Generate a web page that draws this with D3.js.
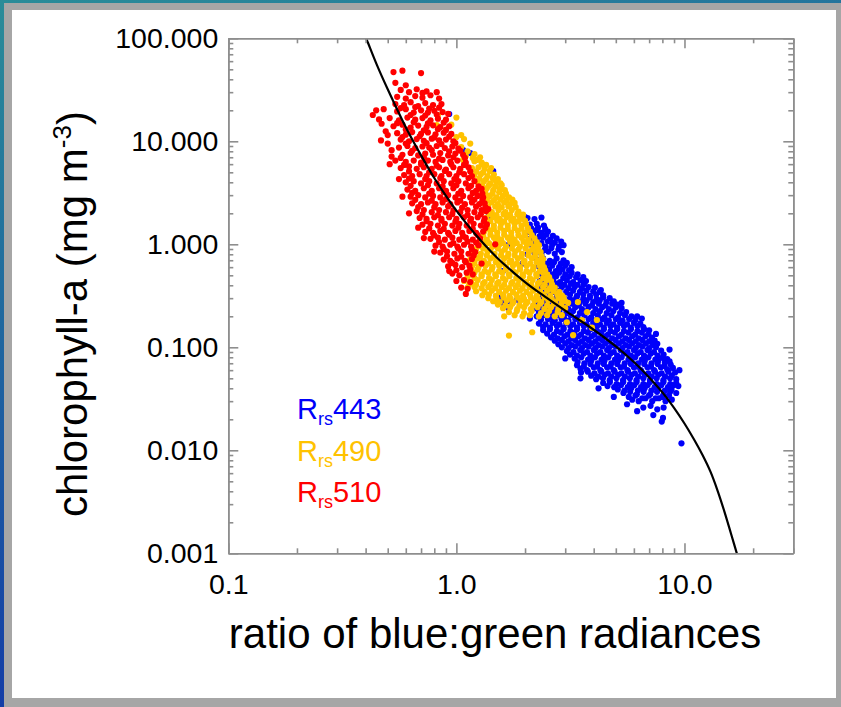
<!DOCTYPE html>
<html>
<head>
<meta charset="utf-8">
<script src="https://cdn.jsdelivr.net/npm/d3@7"></script>
<style>
  html, body { margin: 0; padding: 0; background: #fff; }
  svg { display: block; }
</style>
</head>
<body>
<script>
(function() {
	"use strict";

	// axis ticks
	const X_TICKS = [0.1, 1, 10],
	   Y_TICKS = [0.001, 0.01, 0.1, 1, 10, 100];

	// legend labels (band names)
	const BANDS = ["443", "490", "510"];

	// fitted curve: [ratio, chl]
	const CURVE = [[0.40,103],[0.41,90],[0.45,54],[0.5,32],[0.6,13.7],[0.7,7.3],[0.8,4.4],
	   [0.9,2.95],[1.0,2.12],[1.2,1.28],[1.5,0.75],[2,0.43],[2.5,0.30],[3,0.227],[4,0.148],
	   [5,0.102],[6,0.072],[7,0.051],[8,0.0365],[9,0.0258],[10,0.0182],[11,0.0128],[12,0.009],
	   [13,0.0062],[14,0.004],[15,0.0025],[16,0.00155],[17.2,0.0009]];

	// Rrs443 points: [ratio, chl]
	const RRS443 = [
	  [0.93,18.4],[1.07,8.2],[1.15,7.7],[1.45,5.15],[2.0,1.84],[2.26,1.38],
	  [1.55,0.3],[1.7,0.28],[1.85,0.29],[1.69,0.24],[2.1,0.19],[1.6,0.27],[1.38,1.85],[1.7,1.0],[1.95,0.65],[2.05,0.8],[1.6,0.55],
	  [2.05,1.8],[2.2,1.76],[2.36,1.82],
	  [2.1,1.55],[2.25,1.58],[2.42,1.52],
	  [2.13,1.43],[2.28,1.45],[2.45,1.41],
	  [2.06,1.32],[2.2,1.35],[2.36,1.29],[2.52,1.33],
	  [2.17,1.22],[2.32,1.2],[2.48,1.24],[2.65,1.21],
	  [2.1,1.13],[2.25,1.1],[2.4,1.16],[2.58,1.11],[2.75,1.14],
	  [2.2,1.05],[2.36,1.03],[2.52,1.07],[2.7,1.04],[2.88,1.06],
	  [2.15,0.97],[2.3,0.99],[2.46,0.95],[2.63,0.99],[2.82,0.95],[2.95,0.98],
	  [2.28,0.9],[2.44,0.88],[2.61,0.92],[2.8,0.89],
	  [2.2,0.83],[2.36,0.81],[2.53,0.85],[2.7,0.81],[2.9,0.84],
	  [2.25,0.71],[2.4,0.73],[2.57,0.69],[2.75,0.73],[2.95,0.7],
	  [2.34,0.66],[2.5,0.65],[2.68,0.67],[2.87,0.65],[3.05,0.66],
	  [2.3,0.61],[2.46,0.6],[2.63,0.62],[2.82,0.6],[3.0,0.62],[3.2,0.6],
	  [2.38,0.56],[2.55,0.57],[2.73,0.55],[2.92,0.57],[3.12,0.56],
	  [2.3,0.52],[2.46,0.53],[2.63,0.51],[2.82,0.53],[3.0,0.51],[3.2,0.53],[3.4,0.51],
	  [2.4,0.48],[2.56,0.47],[2.74,0.49],[2.94,0.47],[3.14,0.49],[3.35,0.48],[3.6,0.48],
	  [2.32,0.44],[2.48,0.43],[2.66,0.45],[2.85,0.43],[3.05,0.45],[3.25,0.43],[3.5,0.45],[3.7,0.44],
	  [2.42,0.41],[2.6,0.405],[2.78,0.415],[2.98,0.405],[3.18,0.415],[3.4,0.405],[3.62,0.41],
	  [2.35,0.38],[2.52,0.385],[2.7,0.375],[2.9,0.385],[3.1,0.375],[3.3,0.385],[3.55,0.375],[3.8,0.385],[4.05,0.38],
	  [2.45,0.35],[2.63,0.345],[2.83,0.355],[3.03,0.345],[3.25,0.355],[3.48,0.345],[3.72,0.355],[3.98,0.35],[4.25,0.345],[4.3,0.36],
	  [2.4,0.32],[2.57,0.315],[2.76,0.325],[2.95,0.315],[3.15,0.325],[3.38,0.315],[3.6,0.325],[3.85,0.315],[4.1,0.325],[4.4,0.32],
	  [2.38,0.3],[2.55,0.305],[2.74,0.295],[2.94,0.305],[3.14,0.295],[3.36,0.305],[3.6,0.295],[3.85,0.305],[4.12,0.295],[4.4,0.305],[4.7,0.3],
	  [2.3,0.28],[2.46,0.285],[2.64,0.275],[2.83,0.285],[3.03,0.275],[3.25,0.285],[3.48,0.275],[3.72,0.285],[3.98,0.275],[4.25,0.285],[4.55,0.275],[4.9,0.28],
	  [2.28,0.26],[2.44,0.265],[2.6,0.255],[2.8,0.265],[3.0,0.255],[3.21,0.265],[3.44,0.255],[3.68,0.265],[3.93,0.255],[4.21,0.265],[4.5,0.255],[4.82,0.265],[5.1,0.26],[5.3,0.27],
	  [2.2,0.24],[2.35,0.235],[2.52,0.245],[2.7,0.235],[2.9,0.245],[3.1,0.235],[3.32,0.245],[3.55,0.235],[3.8,0.245],[4.07,0.235],[4.36,0.245],[4.66,0.235],[5.0,0.245],[5.3,0.24],
	  [2.3,0.22],[2.46,0.225],[2.64,0.215],[2.83,0.225],[3.03,0.215],[3.25,0.225],[3.48,0.215],[3.72,0.225],[3.98,0.215],[4.26,0.225],[4.56,0.215],[4.88,0.225],[5.22,0.215],[5.55,0.22],
	  [2.25,0.2],[2.4,0.205],[2.58,0.195],[2.76,0.205],[2.96,0.195],[3.17,0.205],[3.4,0.195],[3.64,0.205],[3.9,0.195],[4.17,0.205],[4.46,0.195],[4.78,0.205],[5.12,0.195],[5.48,0.205],[5.85,0.2],[6.2,0.2],
	  [2.35,0.185],[2.52,0.188],[2.7,0.182],[2.89,0.188],[3.1,0.182],[3.32,0.188],[3.55,0.182],[3.8,0.188],[4.07,0.182],[4.36,0.188],[4.66,0.182],[5.0,0.188],[5.35,0.182],[5.72,0.188],[6.1,0.185],[6.5,0.19],
	  [2.3,0.17],[2.46,0.167],[2.64,0.173],[2.83,0.167],[3.03,0.173],[3.25,0.167],[3.48,0.173],[3.72,0.167],[3.98,0.173],[4.26,0.167],[4.56,0.173],[4.88,0.167],[5.22,0.173],[5.6,0.167],[6.0,0.173],[6.4,0.17],
	  [2.4,0.158],[2.57,0.155],[2.76,0.161],[2.95,0.155],[3.16,0.161],[3.38,0.155],[3.62,0.161],[3.87,0.155],[4.14,0.161],[4.43,0.155],[4.74,0.161],[5.07,0.155],[5.43,0.161],[5.82,0.155],[6.22,0.161],[6.6,0.157],
	  [2.4,0.147],[2.57,0.15],[2.76,0.144],[2.95,0.15],[3.16,0.144],[3.38,0.15],[3.62,0.144],[3.87,0.15],[4.14,0.144],[4.43,0.15],[4.74,0.144],[5.07,0.15],[5.43,0.144],[5.82,0.15],[6.22,0.144],[6.65,0.15],[7.0,0.146],
	  [2.5,0.136],[2.68,0.133],[2.87,0.139],[3.07,0.133],[3.29,0.139],[3.52,0.133],[3.77,0.139],[4.03,0.133],[4.32,0.139],[4.62,0.133],[4.95,0.139],[5.3,0.133],[5.68,0.139],[6.08,0.133],[6.5,0.139],[6.95,0.135],[7.5,0.135],
	  [2.6,0.125],[2.78,0.122],[2.98,0.128],[3.19,0.122],[3.42,0.128],[3.66,0.122],[3.92,0.128],[4.2,0.122],[4.5,0.128],[4.82,0.122],[5.16,0.128],[5.52,0.122],[5.9,0.128],[6.3,0.122],[6.75,0.128],[7.2,0.124],
	  [2.7,0.116],[2.9,0.118],[3.1,0.114],[3.32,0.118],[3.55,0.114],[3.8,0.118],[4.07,0.114],[4.36,0.118],[4.66,0.114],[4.99,0.118],[5.34,0.114],[5.71,0.118],[6.11,0.114],[6.54,0.118],[7.0,0.114],[7.4,0.116],
	  [2.8,0.107],[3.0,0.109],[3.2,0.105],[3.43,0.109],[3.67,0.105],[3.93,0.109],[4.2,0.105],[4.5,0.109],[4.82,0.105],[5.16,0.109],[5.52,0.105],[5.9,0.109],[6.32,0.105],[6.77,0.109],[7.25,0.105],[7.6,0.108],
	  [2.9,0.1],[3.1,0.098],[3.32,0.102],[3.55,0.098],[3.8,0.102],[4.07,0.098],[4.36,0.102],[4.66,0.098],[4.99,0.102],[5.34,0.098],[5.71,0.102],[6.11,0.098],[6.54,0.102],[7.0,0.098],[7.5,0.1],[8.6,0.095],
	  [3.05,0.092],[3.26,0.09],[3.49,0.094],[3.74,0.09],[4.0,0.094],[4.28,0.09],[4.58,0.094],[4.9,0.09],[5.25,0.094],[5.62,0.09],[6.0,0.094],[6.43,0.09],[6.88,0.094],[7.35,0.09],[7.9,0.093],
	  [3.15,0.085],[3.38,0.083],[3.62,0.087],[3.87,0.083],[4.14,0.087],[4.43,0.083],[4.74,0.087],[5.07,0.083],[5.43,0.087],[5.82,0.083],[6.22,0.087],[6.65,0.083],[7.12,0.087],[7.62,0.083],[8.1,0.085],
	  [3.3,0.078],[3.53,0.08],[3.78,0.076],[4.05,0.08],[4.33,0.076],[4.64,0.08],[4.96,0.076],[5.3,0.08],[5.68,0.076],[6.08,0.08],[6.5,0.076],[6.95,0.08],[7.45,0.076],[8.0,0.079],[8.4,0.077],[3.0,0.078],
	  [3.4,0.072],[3.64,0.07],[3.9,0.074],[4.17,0.07],[4.46,0.074],[4.78,0.07],[5.11,0.074],[5.47,0.07],[5.85,0.074],[6.26,0.07],[6.7,0.074],[7.17,0.07],[7.67,0.074],[8.2,0.071],[8.6,0.073],
	  [3.38,0.067],[3.62,0.065],[3.87,0.069],[4.14,0.065],[4.43,0.069],[4.74,0.065],[5.07,0.069],[5.43,0.065],[5.82,0.069],[6.23,0.065],[6.66,0.069],[7.13,0.065],[7.63,0.069],[8.17,0.066],[8.7,0.068],
	  [3.5,0.062],[3.74,0.06],[4.0,0.064],[4.28,0.06],[4.58,0.064],[4.9,0.06],[5.25,0.064],[5.62,0.06],[6.0,0.064],[6.43,0.06],[6.88,0.064],[7.36,0.06],[7.88,0.064],[8.4,0.061],[8.9,0.063],[9.5,0.06],
	  [3.52,0.057],[3.77,0.058],[4.03,0.056],[4.32,0.058],[4.62,0.056],[4.94,0.058],[5.29,0.056],[5.66,0.058],[6.06,0.056],[6.48,0.058],[6.94,0.056],[7.42,0.058],[7.94,0.056],[8.5,0.058],[9.1,0.057],
	  [3.9,0.053],[4.18,0.052],[4.47,0.054],[4.78,0.052],[5.12,0.054],[5.48,0.052],[5.86,0.054],[6.27,0.052],[6.71,0.054],[7.18,0.052],[7.68,0.054],[8.22,0.052],[8.8,0.053],[3.5,0.05],
	  [4.1,0.049],[4.39,0.05],[4.7,0.048],[5.03,0.05],[5.38,0.048],[5.76,0.05],[6.16,0.048],[6.6,0.05],[7.06,0.048],[7.55,0.05],[8.08,0.048],[8.65,0.05],[9.2,0.049],
	  [4.4,0.045],[4.71,0.046],[5.04,0.044],[5.39,0.046],[5.77,0.044],[6.17,0.046],[6.6,0.044],[7.06,0.046],[7.56,0.044],[8.09,0.046],[8.66,0.044],[9.2,0.045],
	  [4.6,0.042],[4.92,0.041],[5.27,0.043],[5.64,0.041],[6.03,0.043],[6.45,0.041],[6.9,0.043],[7.4,0.041],[7.92,0.043],[8.47,0.041],[9.0,0.043],[9.4,0.042],[4.2,0.04],
	  [5.1,0.039],[5.46,0.038],[5.84,0.04],[6.25,0.038],[6.69,0.04],[7.16,0.038],[7.66,0.04],[8.2,0.038],[8.77,0.039],
	  [5.4,0.036],[5.78,0.037],[6.18,0.035],[6.62,0.037],[7.08,0.035],[7.58,0.037],[8.1,0.035],[8.65,0.037],[9.2,0.036],
	  [5.7,0.033],[6.1,0.034],[6.53,0.032],[6.99,0.034],[7.48,0.032],[8.0,0.033],[8.55,0.034],[4.9,0.033],
	  [5.9,0.031],[6.3,0.03],[6.75,0.032],[7.22,0.03],[7.72,0.032],[8.26,0.03],[8.8,0.031],
	  [6.6,0.026],[7.1,0.027],[7.6,0.025],[8.1,0.026],[5.6,0.028],[6.2,0.024],[7.3,0.022],
	  [8.05,0.0206],[7.95,0.019],[9.7,0.0117]
	];

	// Rrs490 points
	const RRS490 = [
	  [0.83,18],[1.0,17],[0.82,14.4],[1.05,11.5],[1.07,6.6],[1.23,6.6],[1.04,5.3],[1.48,4.2],[0.9,13],[0.95,14.5],
	  [1.0,11],[1.08,10.5],[1.15,9.5],[1.05,8.8],[1.12,8],[1.2,7.5],[1.27,7.0],[1.1,7.2],[1.18,6.9],[1.3,6.0],[1.35,5.9],
	  [1.2,6.4],[1.29,6.2],
	  [1.17,5.5],[1.25,5.6],[1.33,5.4],[1.42,5.5],
	  [1.22,5.1],[1.31,5.0],[1.4,5.15],
	  [1.2,4.7],[1.28,4.8],[1.37,4.6],[1.46,4.75],
	  [1.26,4.35],[1.35,4.3],[1.44,4.4],[1.52,4.3],
	  [1.24,4.0],[1.32,4.1],[1.41,3.9],[1.5,4.05],[1.56,3.9],
	  [1.3,3.7],[1.39,3.75],[1.48,3.65],[1.58,3.75],
	  [1.28,3.4],[1.36,3.5],[1.45,3.35],[1.55,3.45],[1.63,3.35],
	  [1.34,3.15],[1.44,3.1],[1.54,3.2],[1.65,3.1],
	  [1.32,2.9],[1.4,2.95],[1.5,2.85],[1.6,2.95],[1.7,2.85],
	  [1.36,2.7],[1.46,2.68],[1.56,2.73],[1.66,2.67],[1.76,2.72],
	  [1.33,2.5],[1.42,2.55],[1.52,2.45],[1.62,2.55],[1.72,2.45],[1.8,2.52],
	  [1.38,2.3],[1.48,2.33],[1.58,2.28],[1.69,2.33],[1.82,2.3],
	  [1.34,2.1],[1.43,2.05],[1.53,2.15],[1.64,2.05],[1.75,2.15],[1.87,2.08],
	  [1.4,1.95],[1.5,1.92],[1.61,1.97],[1.72,1.93],[1.85,1.96],[1.96,1.94],
	  [1.35,1.8],[1.45,1.84],[1.55,1.77],[1.66,1.83],[1.78,1.77],[1.9,1.83],[1.96,1.76],
	  [1.41,1.68],[1.51,1.7],[1.62,1.66],[1.74,1.7],[1.87,1.67],[2.0,1.69],
	  [1.36,1.55],[1.46,1.52],[1.57,1.58],[1.68,1.52],[1.8,1.58],[1.93,1.52],[2.02,1.57],
	  [1.37,1.43],[1.46,1.41],[1.56,1.45],[1.68,1.41],[1.8,1.44],[1.93,1.42],[2.06,1.44],
	  [1.32,1.32],[1.41,1.35],[1.51,1.3],[1.62,1.35],[1.74,1.3],[1.86,1.35],[1.99,1.3],[2.1,1.33],
	  [1.31,1.22],[1.41,1.24],[1.51,1.2],[1.62,1.24],[1.74,1.2],[1.87,1.23],[2.0,1.21],[2.14,1.23],
	  [1.27,1.13],[1.36,1.11],[1.46,1.16],[1.57,1.11],[1.68,1.16],[1.8,1.11],[1.93,1.16],[2.07,1.11],[2.2,1.14],
	  [1.3,1.05],[1.39,1.03],[1.49,1.06],[1.6,1.03],[1.72,1.06],[1.84,1.03],[1.97,1.06],[2.11,1.03],[2.25,1.05],
	  [1.25,0.97],[1.34,0.99],[1.44,0.95],[1.54,0.99],[1.65,0.95],[1.77,0.99],[1.9,0.95],[2.04,0.99],[2.18,0.95],[2.3,0.98],
	  [1.22,0.9],[1.31,0.91],[1.41,0.89],[1.52,0.91],[1.63,0.89],[1.75,0.91],[1.87,0.89],[2.01,0.91],[2.15,0.89],[2.28,0.9],
	  [1.2,0.83],[1.28,0.81],[1.37,0.85],[1.47,0.81],[1.58,0.85],[1.69,0.81],[1.81,0.85],[1.94,0.81],[2.08,0.85],[2.22,0.82],[2.34,0.84],
	  [1.18,0.77],[1.27,0.76],[1.36,0.78],[1.46,0.76],[1.57,0.78],[1.68,0.76],[1.8,0.78],[1.93,0.76],[2.07,0.78],[2.21,0.76],[2.36,0.77],
	  [1.15,0.71],[1.23,0.73],[1.32,0.69],[1.41,0.73],[1.51,0.69],[1.62,0.73],[1.74,0.69],[1.86,0.73],[1.99,0.69],[2.14,0.73],[2.28,0.7],[2.4,0.72],
	  [1.2,0.66],[1.29,0.67],[1.38,0.65],[1.49,0.67],[1.6,0.65],[1.71,0.67],[1.84,0.65],[1.97,0.67],[2.11,0.65],[2.25,0.67],[2.38,0.66],
	  [1.17,0.61],[1.25,0.6],[1.34,0.62],[1.44,0.6],[1.54,0.62],[1.65,0.6],[1.77,0.62],[1.9,0.6],[2.03,0.62],[2.18,0.6],[2.32,0.62],[2.42,0.6],
	  [1.16,0.56],[1.24,0.57],[1.33,0.55],[1.43,0.57],[1.54,0.55],[1.65,0.57],[1.77,0.55],[1.9,0.57],[2.03,0.55],[2.17,0.57],[2.32,0.55],[2.45,0.56],
	  [1.12,0.52],[1.2,0.53],[1.29,0.51],[1.38,0.53],[1.48,0.51],[1.59,0.53],[1.7,0.51],[1.82,0.53],[1.95,0.51],[2.09,0.53],[2.24,0.51],[2.4,0.53],[2.5,0.51],
	  [1.12,0.48],[1.2,0.47],[1.29,0.49],[1.39,0.47],[1.49,0.49],[1.6,0.47],[1.71,0.49],[1.83,0.47],[1.96,0.49],[2.1,0.47],[2.25,0.49],[2.4,0.47],[2.55,0.48],
	  [1.08,0.44],[1.16,0.43],[1.24,0.45],[1.33,0.43],[1.43,0.45],[1.53,0.43],[1.64,0.45],[1.76,0.43],[1.88,0.45],[2.02,0.43],[2.16,0.45],[2.32,0.43],[2.48,0.45],[2.6,0.44],
	  [1.14,0.41],[1.22,0.405],[1.31,0.415],[1.41,0.405],[1.51,0.415],[1.62,0.405],[1.74,0.415],[1.86,0.405],[1.99,0.415],[2.13,0.405],[2.28,0.415],[2.44,0.405],[2.62,0.41],
	  [1.12,0.38],[1.2,0.385],[1.29,0.375],[1.38,0.385],[1.48,0.375],[1.58,0.385],[1.7,0.375],[1.82,0.385],[1.95,0.375],[2.09,0.385],[2.24,0.375],[2.4,0.385],[2.57,0.375],[2.7,0.38],
	  [1.22,0.35],[1.33,0.345],[1.43,0.355],[1.54,0.345],[1.65,0.355],[1.77,0.345],[1.9,0.355],[2.03,0.345],[2.17,0.355],[2.33,0.345],[2.5,0.355],[2.66,0.35],[2.82,0.345],
	  [1.3,0.32],[1.39,0.325],[1.49,0.315],[1.6,0.325],[1.71,0.315],[1.83,0.325],[1.96,0.315],[2.1,0.325],[2.25,0.315],[2.41,0.325],[2.58,0.315],[2.77,0.325],[2.9,0.32],
	  [1.38,0.3],[1.5,0.295],[1.61,0.305],[1.73,0.295],[1.85,0.305],[1.98,0.295],[2.12,0.305],[2.28,0.295],[2.44,0.305],[2.62,0.295],[2.8,0.3],[2.95,0.305],
	  [1.45,0.28],[1.55,0.275],[1.66,0.285],[1.78,0.275],[1.91,0.285],[2.05,0.275],[2.2,0.285],[2.36,0.275],[2.53,0.285],[2.71,0.275],[2.9,0.285],[3.0,0.28],
	  [1.52,0.26],[1.64,0.255],[1.76,0.265],[1.89,0.255],[2.02,0.265],[2.17,0.255],[2.33,0.265],[2.5,0.255],[2.68,0.265],[2.88,0.26],
	  [1.6,0.24],[1.72,0.245],[1.85,0.235],[1.98,0.245],[2.12,0.235],[2.27,0.245],[2.43,0.235],[2.6,0.245],[2.8,0.235],[3.0,0.24],
	  [1.7,0.22],[1.84,0.225],[1.98,0.215],[2.14,0.225],[2.35,0.215],[2.55,0.225],[2.78,0.22],
	  [1.8,0.205],[1.95,0.2],[2.1,0.205],[2.3,0.2],[2.5,0.205],[2.7,0.2],[2.9,0.205],
	  [1.62,0.2],[1.7,0.13],[2.15,0.14],
	  [3.09,0.27],[3.41,0.275],[3.74,0.22],[4.13,0.184],[3.55,0.184],[3.05,0.175],[3.25,0.131],[3.93,0.155]
	];

	// Rrs510 points
	const RRS510 = [
	  [0.53,47],[0.58,48.5],[0.70,46],[0.54,37],[0.60,35],[0.71,29.5],[0.82,30],[0.445,20],[0.48,20.5],[0.458,16.3],[0.467,10.2],[0.52,7.1],[0.49,12.5],[0.50,9.5],[0.52,8.2],
	  [0.43,18],[0.47,14.8],[0.5,11.5],[0.51,6.0],
	  [0.57,31.5],[0.62,30],[0.67,32],[0.74,30.5],
	  [0.55,27],[0.60,26],[0.66,27.5],[0.71,26.5],[0.77,28],[0.84,26],
	  [0.54,23],[0.59,22.5],[0.63,24],[0.68,22],[0.73,23.5],[0.79,22.5],[0.86,23],
	  [0.57,21],[0.66,21.5],[0.76,20.8],[0.84,21.2],
	  [0.55,19.5],[0.60,20.5],[0.65,19],[0.70,20],[0.75,19],[0.80,19.8],[0.87,19.2],[0.92,18.5],
	  [0.63,18],[0.73,17.8],[0.82,18.2],
	  [0.51,16.8],[0.56,16],[0.61,17],[0.66,16.2],[0.71,16.8],[0.77,16],[0.83,16.6],[0.90,16.2],
	  [0.55,15],[0.65,15.3],[0.75,14.9],[0.88,15.2],
	  [0.53,14],[0.58,14.5],[0.63,13.6],[0.68,14.2],[0.74,13.8],[0.79,14.3],[0.85,13.7],[0.93,14],
	  [0.6,13],[0.72,12.8],[0.83,13.1],[0.9,12.9],
	  [0.55,12],[0.60,11.6],[0.64,12.3],[0.70,11.8],[0.75,12.2],[0.81,11.7],[0.88,12.1],[0.95,11.8],
	  [0.58,11],[0.69,11.2],[0.8,10.9],[0.93,11.1],
	  [0.57,10.4],[0.62,10],[0.67,10.5],[0.72,10.1],[0.78,10.6],[0.84,10.2],[0.90,10.4],[0.97,10],
	  [0.6,9.5],[0.74,9.6],[0.86,9.4],[0.99,9.6],
	  [0.56,8.7],[0.61,9],[0.66,8.6],[0.71,8.9],[0.76,8.7],[0.82,9],[0.89,8.6],[0.96,8.9],[1.02,8.5],
	  [0.64,8.1],[0.78,8.2],[0.93,8.0],[1.04,8.1],
	  [0.58,7.4],[0.63,7.7],[0.68,7.3],[0.73,7.6],[0.79,7.4],[0.85,7.7],[0.92,7.3],[0.99,7.6],[1.07,7.4],
	  [0.57,6.9],[0.72,7.0],[0.84,6.8],[0.97,7.0],[1.09,6.9],
	  [0.54,6.5],[0.60,6.3],[0.65,6.5],[0.70,6.2],[0.75,6.5],[0.81,6.3],[0.87,6.6],[0.94,6.3],[1.01,6.5],[1.10,6.2],
	  [0.59,5.9],[0.7,6.0],[0.82,5.8],[0.95,6.0],[1.08,5.9],
	  [0.57,5.5],[0.62,5.7],[0.67,5.4],[0.72,5.6],[0.78,5.4],[0.84,5.6],[0.90,5.3],[0.97,5.6],[1.04,5.4],[1.13,5.6],
	  [0.62,5.1],[0.76,5.0],[0.89,5.15],[1.03,5.0],[1.15,5.1],
	  [0.59,4.7],[0.64,4.6],[0.69,4.8],[0.74,4.6],[0.80,4.8],[0.86,4.6],[0.93,4.8],[1.00,4.6],[1.08,4.8],[1.17,4.6],
	  [0.62,4.35],[0.73,4.3],[0.85,4.4],[0.98,4.3],[1.13,4.4],[0.56,4.3],
	  [0.60,4.0],[0.65,4.1],[0.70,3.9],[0.76,4.1],[0.82,3.9],[0.88,4.1],[0.95,3.9],[1.02,4.1],[1.10,3.9],[1.20,4.1],
	  [0.63,3.7],[0.75,3.75],[0.87,3.65],[1.0,3.75],[1.16,3.7],[1.25,3.65],
	  [0.61,3.4],[0.66,3.3],[0.72,3.5],[0.78,3.3],[0.84,3.5],[0.90,3.3],[0.97,3.5],[1.05,3.3],[1.13,3.5],[1.22,3.3],[1.29,3.45],
	  [0.64,3.15],[0.76,3.1],[0.88,3.2],[1.02,3.1],[1.18,3.15],[1.3,3.1],
	  [0.63,2.9],[0.68,3.0],[0.73,2.85],[0.79,2.95],[0.85,2.85],[0.92,3.0],[0.99,2.85],[1.07,2.95],[1.15,2.85],[1.24,2.95],[1.31,2.85],[0.58,2.9],
	  [0.66,2.7],[0.78,2.65],[0.9,2.75],[1.04,2.65],[1.2,2.72],[1.3,2.68],
	  [0.64,2.5],[0.70,2.45],[0.75,2.55],[0.81,2.45],[0.87,2.55],[0.94,2.45],[1.01,2.55],[1.09,2.45],[1.17,2.55],[1.26,2.45],[1.33,2.5],
	  [0.68,2.3],[0.8,2.28],[0.92,2.33],[1.06,2.27],[1.22,2.32],[1.34,2.3],
	  [0.67,2.1],[0.72,2.15],[0.78,2.05],[0.84,2.15],[0.90,2.05],[0.97,2.15],[1.04,2.05],[1.12,2.15],[1.20,2.05],[1.29,2.15],[1.35,2.1],[0.62,2.0],
	  [0.71,1.95],[0.83,1.92],[0.96,1.97],[1.12,1.93],[1.28,1.96],
	  [0.69,1.8],[0.74,1.77],[0.80,1.83],[0.86,1.77],[0.93,1.83],[1.00,1.77],[1.08,1.83],[1.16,1.77],[1.24,1.83],[1.33,1.78],
	  [0.74,1.68],[0.86,1.7],[0.99,1.66],[1.15,1.7],[1.32,1.67],
	  [0.71,1.55],[0.77,1.58],[0.83,1.52],[0.89,1.58],[0.96,1.52],[1.03,1.58],[1.11,1.52],[1.19,1.58],[1.28,1.52],[1.36,1.56],
	  [0.76,1.43],[0.88,1.41],[1.02,1.45],[1.18,1.41],[1.34,1.44],[0.68,1.45],
	  [0.73,1.32],[0.79,1.29],[0.85,1.35],[0.92,1.29],[0.99,1.35],[1.06,1.29],[1.14,1.35],[1.22,1.29],[1.31,1.33],
	  [0.8,1.22],[0.93,1.24],[1.07,1.2],[1.24,1.23],
	  [0.77,1.13],[0.83,1.16],[0.89,1.11],[0.96,1.16],[1.03,1.11],[1.10,1.16],[1.18,1.11],[1.27,1.14],[0.72,1.15],
	  [0.84,1.05],[0.97,1.03],[1.12,1.06],[1.22,1.04],
	  [0.81,0.97],[0.87,0.95],[0.94,0.99],[1.01,0.95],[1.08,0.99],[1.16,0.95],[1.25,0.98],
	  [0.88,0.9],[1.02,0.91],[1.17,0.89],[0.8,0.85],
	  [0.85,0.83],[0.91,0.85],[0.98,0.81],[1.05,0.85],[1.13,0.81],[1.21,0.84],
	  [0.91,0.77],[1.05,0.76],[1.19,0.78],
	  [0.88,0.71],[0.94,0.69],[1.01,0.73],[1.09,0.69],[1.17,0.72],
	  [0.96,0.66],[1.1,0.67],
	  [0.92,0.61],[0.99,0.63],[1.06,0.6],[1.14,0.62],
	  [1.0,0.56],[1.15,0.57],[0.93,0.55],
	  [0.96,0.52],[1.03,0.5],[1.11,0.53],[1.18,0.51],
	  [1.00,0.44],[1.08,0.45],[1.15,0.43],
	  [1.05,0.38],[1.12,0.37],[1.1,0.33],
	  [1.38,2.2],[1.48,1.0],[1.29,0.65]
	];

	const COLORS = ["#0000fa", "#ffc200", "#ff0000"];

	const W = 841, H = 707,
	   X0 = 228.3, X1 = 793.3, Y0 = 38.3, Y1 = 553.3;

	const svg = d3.select("body").append("svg").attr("width", W).attr("height", H)
	   .style("font-family", "'Liberation Sans', Arial, Helvetica, sans-serif");

	// frame: blue backdrop, gray border, white panel
	const grad = svg.append("defs").append("linearGradient").attr("id", "bg")
	   .attr("x1", 0).attr("y1", 0).attr("x2", 0.3).attr("y2", 1);
	grad.append("stop").attr("offset", 0).attr("stop-color", "#2a8c98");
	grad.append("stop").attr("offset", 1).attr("stop-color", "#1236a8");
	svg.append("rect").attr("width", W).attr("height", H).attr("fill", "url(#bg)");
	svg.append("rect").attr("x", 4).attr("y", 3).attr("width", W - 4).attr("height", H - 3).attr("fill", "#a6a6a6");
	svg.append("rect").attr("x", 12).attr("y", 10).attr("width", 824).attr("height", 688).attr("fill", "#fff");

	const x = d3.scaleLog().domain([0.1, 30]).range([X0, X1]),
	   y = d3.scaleLog().domain([0.001, 100]).range([Y1, Y0]);

	svg.append("clipPath").attr("id", "plot").append("rect")
	   .attr("x", X0).attr("y", Y0).attr("width", X1 - X0).attr("height", Y1 - Y0);

	// scatter, blue under yellow under red
	const pts = svg.append("g").attr("clip-path", "url(#plot)");
	[RRS443, RRS490, RRS510].forEach((set, i) => {
		pts.append("g").selectAll("circle").data(set).enter().append("circle")
		  .attr("cx", d => x(d[0])).attr("cy", d => y(d[1])).attr("r", 3.1)
		  .attr("fill", COLORS[i]);
	});

	svg.append("path").datum(CURVE).attr("clip-path", "url(#plot)")
	   .attr("d", d3.line().x(d => x(d[0])).y(d => y(d[1])).curve(d3.curveCatmullRom.alpha(0.5)))
	   .attr("fill", "none").attr("stroke", "#000").attr("stroke-width", 2.2);

	// axes: majors + minors on all four sides, ticks pointing in
	const isMajor = v => Math.abs(Math.log10(v) - Math.round(Math.log10(v))) < 1e-6;
	const xMinor = x.ticks().filter(v => !isMajor(v)),
	   yMinor = y.ticks().filter(v => !isMajor(v));

	const axes = [
		[d3.axisBottom(x).tickValues(X_TICKS).tickFormat(d3.format(".1f")).tickSizeInner(-10).tickPadding(20), `translate(0,${Y1})`],
		[d3.axisBottom(x).tickValues(xMinor).tickFormat("").tickSizeInner(-5), `translate(0,${Y1})`],
		[d3.axisTop(x).tickValues(X_TICKS).tickFormat("").tickSizeInner(-10), `translate(0,${Y0})`],
		[d3.axisTop(x).tickValues(xMinor).tickFormat("").tickSizeInner(-5), `translate(0,${Y0})`],
		[d3.axisLeft(y).tickValues(Y_TICKS).tickFormat(d3.format(".3f")).tickSizeInner(-10).tickPadding(10), `translate(${X0},0)`],
		[d3.axisLeft(y).tickValues(yMinor).tickFormat("").tickSizeInner(-5), `translate(${X0},0)`],
		[d3.axisRight(y).tickValues(Y_TICKS).tickFormat("").tickSizeInner(-10), `translate(${X1},0)`],
		[d3.axisRight(y).tickValues(yMinor).tickFormat("").tickSizeInner(-5), `translate(${X1},0)`]
	];
	axes.forEach(a => {
		const g = svg.append("g").attr("transform", a[1]).call(a[0].tickSizeOuter(0));
		g.attr("font-family", null).attr("font-size", null);
		g.selectAll("path, line").attr("stroke", "#8e8e8e").attr("stroke-width", 1.6);
		g.selectAll("text").attr("fill", "#000").style("font-size", "28.5px");
	});

	// titles
	svg.append("text").attr("x", 495).attr("y", 648).attr("text-anchor", "middle")
	   .style("font-size", "42px").text("ratio of blue:green radiances");
	const yt = svg.append("text").attr("transform", "translate(87,314) rotate(-90)")
	   .attr("text-anchor", "middle").style("font-size", "42px");
	yt.append("tspan").text("chlorophyll-a (mg m");
	yt.append("tspan").attr("dy", -16).style("font-size", "26px").text("-3");
	yt.append("tspan").attr("dy", 16).text(")");

	// legend
	const lg = svg.append("g").selectAll("text").data(BANDS).enter().append("text")
	   .attr("x", 297).attr("y", (d, i) => 419 + i * 41.5)
	   .attr("fill", (d, i) => COLORS[i]).style("font-size", "29px");
	lg.append("tspan").text("R");
	lg.append("tspan").attr("dy", 6).style("font-size", "18px").text("rs");
	lg.append("tspan").attr("dy", -6).text(d => d);
}());
</script>
</body>
</html>
